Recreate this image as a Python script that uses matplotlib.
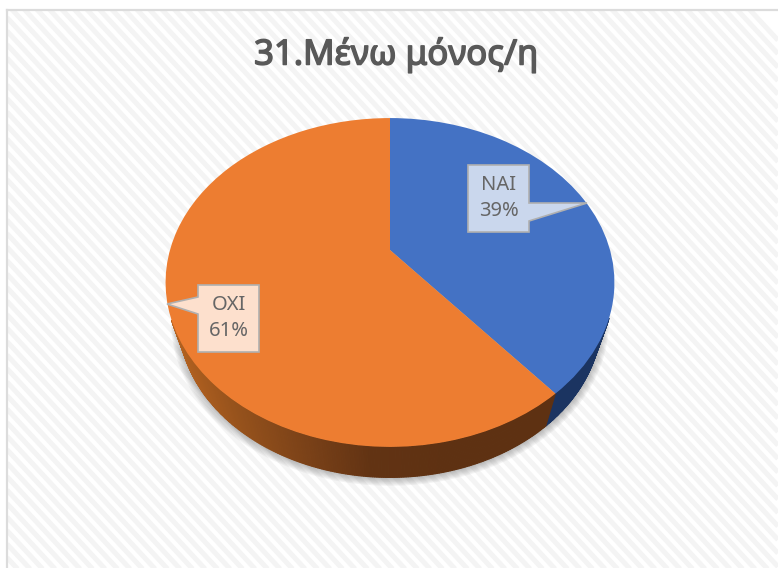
import numpy as np
import matplotlib
matplotlib.use("Agg")
import matplotlib.pyplot as plt
import matplotlib.patheffects as pe
from matplotlib.patches import Polygon
from matplotlib.path import Path
from matplotlib.transforms import Transform

# ---- data ----
title = "31.Μένω μόνος/η"
categories = ["NAI", "OXI"]
values = [39, 61]
colors = ["#4472C4", "#ED7D31"]

plt.rcParams['font.family'] = ['Noto Sans', 'DejaVu Sans']


class DiscProjection(Transform):
    """Perspective view of a unit disc, into pixel coordinates."""
    input_dims = output_dims = 2
    is_separable = False
    has_inverse = False

    def __init__(self, a, b, k, cx, cy, scale=1.0):
        super().__init__()
        self.a, self.b, self.k, self.cx, self.cy, self.scale = a, b, k, cx, cy, scale

    def transform_non_affine(self, xy):
        xy = np.asarray(xy, dtype=float) * self.scale
        w = 1 + self.k * xy[:, 1]
        return np.column_stack((self.cx + self.a * xy[:, 0] / w,
                                self.cy - self.b * xy[:, 1] / w))

    def transform_path_non_affine(self, path):
        return Path(self.transform_non_affine(path.vertices), path.codes)


fig = plt.figure(figsize=(7.78, 5.68), dpi=100, facecolor="white")
ax = fig.add_axes([0, 0, 1, 1])

top_disc = DiscProjection(220, 158, 0.1975, 390, 250)
bot_disc = DiscProjection(207, 152, 0.1975, 390, 288)

wedges = ax.pie(values, colors=colors, startangle=90, counterclock=False)[0]
ax.set_aspect("auto")
ax.set_xlim(0, 778)
ax.set_ylim(568, 0)
ax.axis("off")

for w in wedges:
    w.set_transform(top_disc + ax.transData)
    w.set_zorder(5)
    w.set_linewidth(0)
    w.set_antialiased(True)

# ---- background: diagonal stripes and border ----
L, T = 7, 10
ax.add_patch(plt.Rectangle((L, T), 778 - L, 568 - T, fc="white", ec="none", zorder=0))
for c in np.arange(-800, 800, 13.5):
    xs = np.array([L, 778.0])
    ys = xs * 1.08 + c
    ln, = ax.plot(xs, ys, color="#f4f4f4", lw=3.6, solid_capstyle="butt", zorder=0.5)
    ln.set_clip_path(plt.Rectangle((L, T), 778 - L, 568 - T, transform=ax.transData))
ax.plot([L, L], [568, T], color="#dcdcdc", lw=1.6, zorder=1, solid_capstyle="projecting")
ax.plot([L, 778], [T, T], color="#dcdcdc", lw=1.6, zorder=1, solid_capstyle="projecting")


def ring(theta_deg):
    t = np.radians(theta_deg)
    return np.column_stack((np.cos(t), np.sin(t)))


# ---- soft shadow under the disc ----
full = ring(np.linspace(0, 360, 361))
for s in np.linspace(1.035, 1.004, 7):
    sh = DiscProjection(207, 152, 0.1975, 390, 288, scale=s)
    ax.add_patch(Polygon(sh.transform_non_affine(full), fc="#606060", ec="none",
                         alpha=0.07, zorder=2))

# ---- side wall, one narrow strip per step, shaded along x ----
orange_stops_x = [172, 235, 300, 370, 450]
orange_r = [0xB4, 0x96, 0x7C, 0x62, 0x5E]
orange_g = [0x62, 0x52, 0x42, 0x33, 0x31]
orange_b = [0x20, 0x1C, 0x18, 0x13, 0x12]


def wall_colour(i, x):
    if i == 0:
        return "#1B3461"
    return (np.interp(x, orange_stops_x, orange_r) / 255,
            np.interp(x, orange_stops_x, orange_g) / 255,
            np.interp(x, orange_stops_x, orange_b) / 255)


for i, w in enumerate(wedges):
    th = np.linspace(w.theta1, w.theta2, int(abs(w.theta2 - w.theta1)) * 2 + 2)
    pts = ring(th)
    upper = top_disc.transform_non_affine(pts)
    lower = bot_disc.transform_non_affine(pts)
    for j in range(len(th) - 1):
        if pts[j, 1] > -0.4:      # back and flanks of the disc: the wall is hidden
            continue
        quad = [upper[j], upper[j + 1], lower[j + 1], lower[j]]
        col = wall_colour(i, upper[j, 0])
        ax.add_patch(Polygon(quad, fc=col, ec=col, lw=0.8, zorder=3))

# ---- callout labels ----
callouts = [
    dict(box=(468, 165, 529, 232), tip=[(529, 203), (587, 203), (529, 221)], fc="#CAD7ED", xy=(498.5, 198)),
    dict(box=(198, 285, 259, 352), tip=[(198, 297), (167, 304), (198, 314)], fc="#FDE0CD", xy=(228.5, 318)),
]
for cat, val, c in zip(categories, values, callouts):
    x0, y0, x1, y1 = c["box"]
    (p0, tip, p1) = c["tip"]
    if tip[0] > x1:
        outline = [(x0, y0), (x1, y0), p0, tip, p1, (x1, y1), (x0, y1)]
    else:
        outline = [(x0, y0), (x1, y0), (x1, y1), (x0, y1), p1, tip, p0]
    ax.add_patch(Polygon(outline, closed=True, fc=c["fc"], ec="#B0B0B0", lw=1.2,
                         joinstyle="miter", zorder=6))
    ax.text(c["xy"][0], c["xy"][1], f"{cat}\n{val}%", ha="center", va="center",
            color="#666666", fontsize=14.5, linespacing=1.42, zorder=7)

ax.text(396, 55, title, ha="center", va="center", fontsize=25,
        color="#595959", zorder=7,
        path_effects=[pe.withStroke(linewidth=1.1, foreground="#595959")])

fig.savefig("out.png", dpi=100, facecolor="white")
